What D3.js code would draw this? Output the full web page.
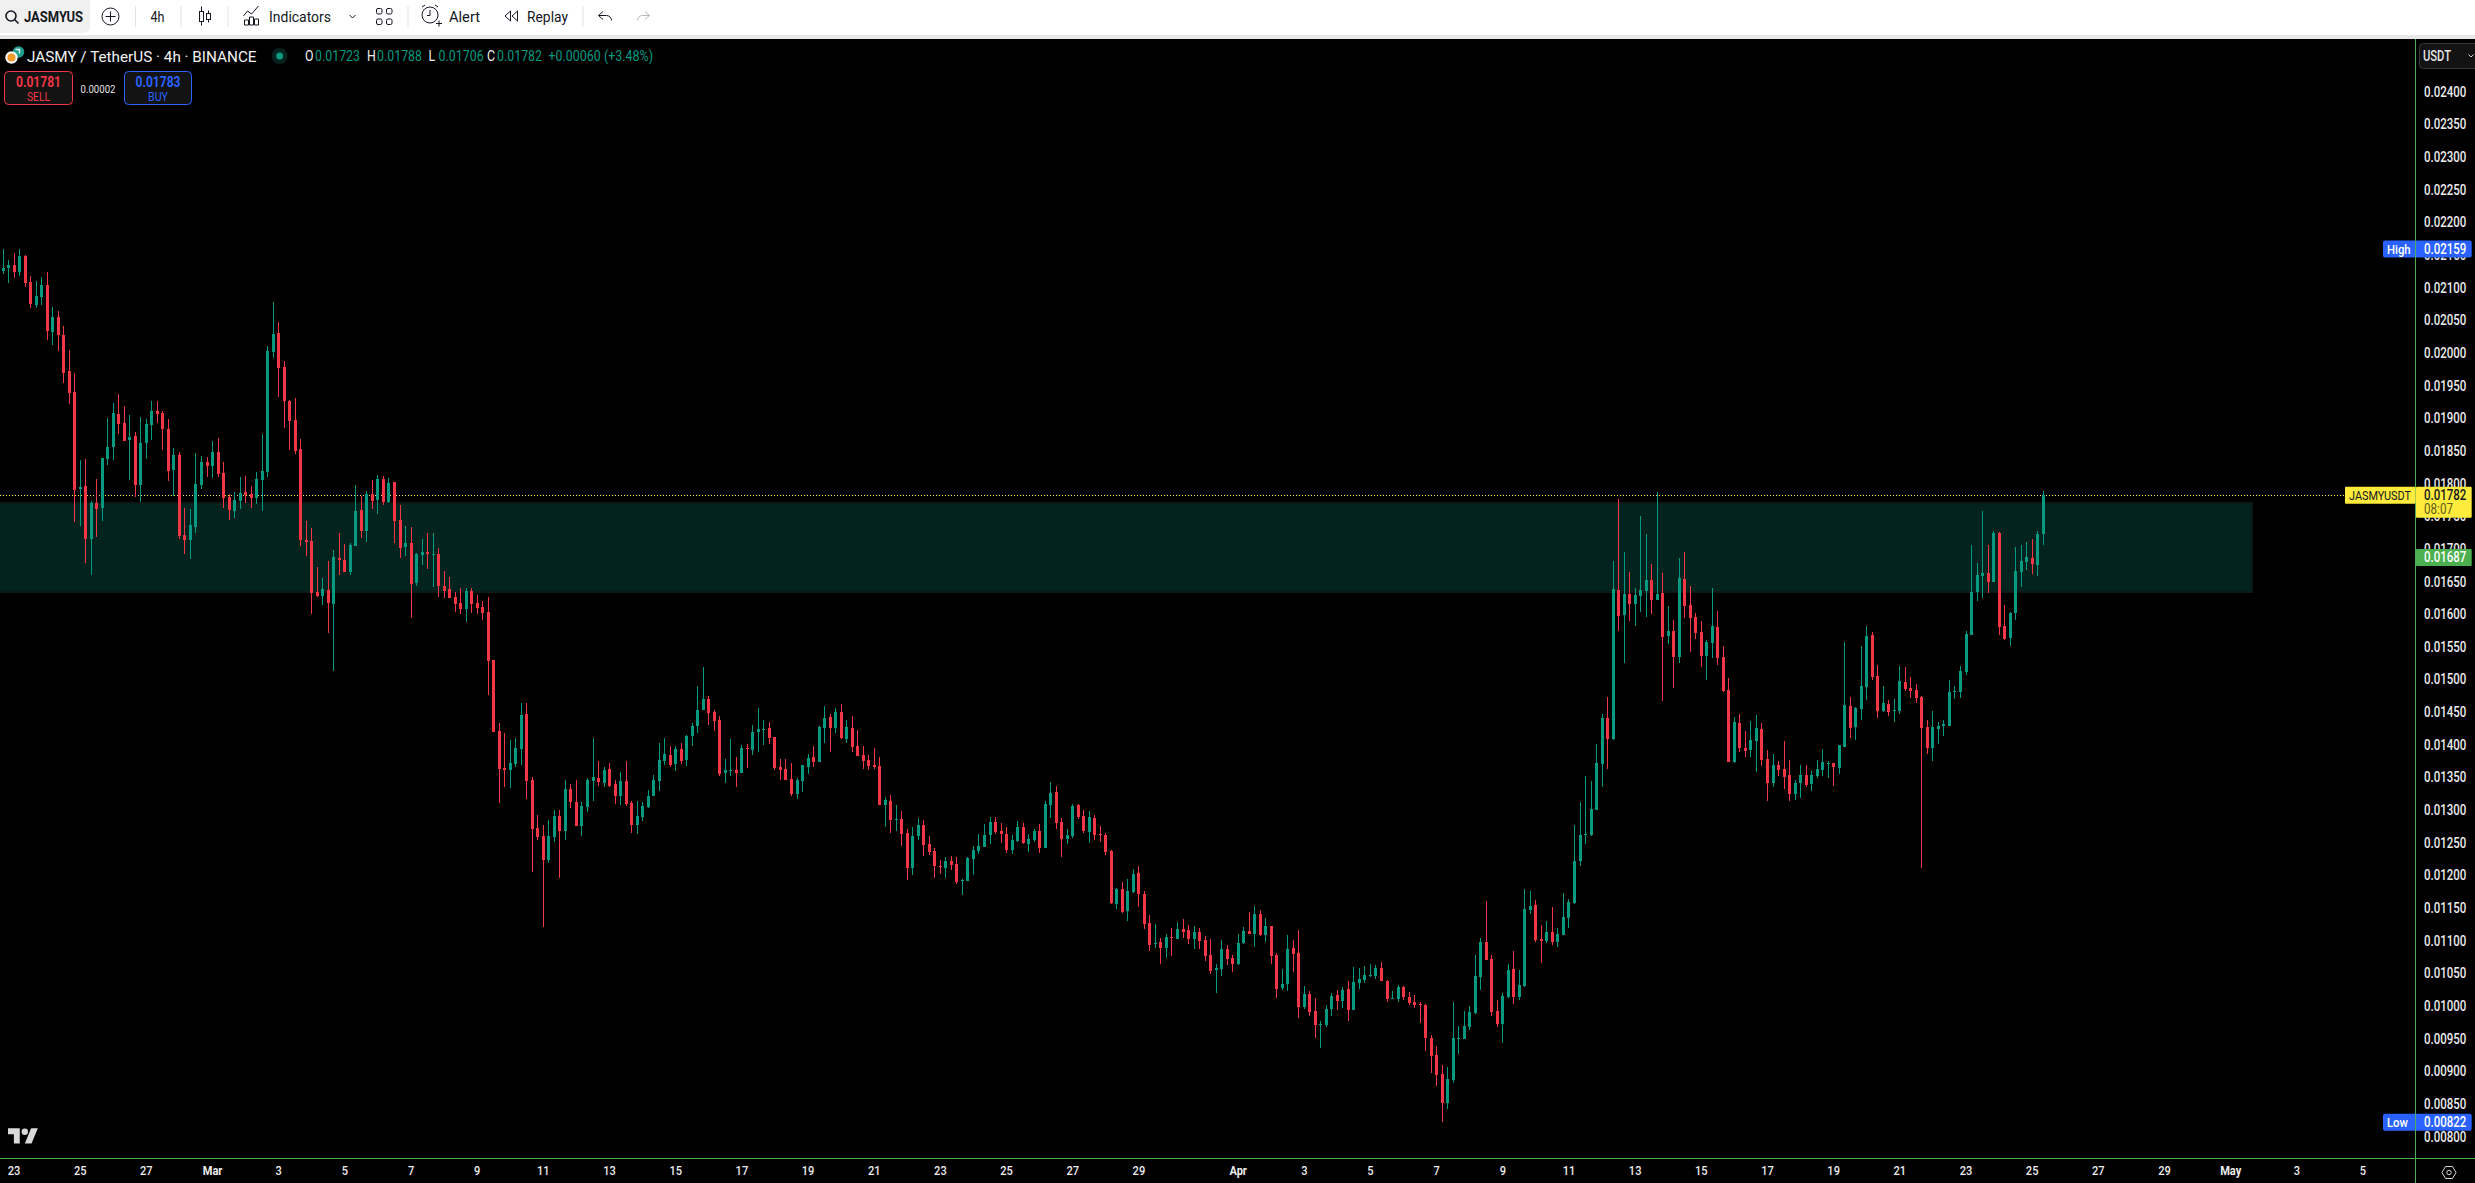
<!DOCTYPE html>
<html><head><meta charset="utf-8"><title>JASMY / TetherUS 4h</title>
<script src="https://cdn.jsdelivr.net/npm/d3@7"></script>
<style>html,body{margin:0;padding:0;background:#000;overflow:hidden}svg{display:block}text{font-family:Roboto,sans-serif}</style>
</head><body><svg id="chart" width="2475" height="1183"></svg>
<script>
// Prices are in units of 0.00001 USDT. One 4h candle per array position.
const PRICE_UNIT = 0.00001;
const highs = [2159,2142,2153,2159,2150,2118,2110,2116,2124,2070,
2064,2041,2004,1969,1836,1838,1773,1807,1839,1900,
1923,1937,1919,1905,1879,1902,1899,1926,1926,1911,
1899,1854,1848,1763,1761,1847,1842,1841,1865,1870,
1833,1784,1787,1810,1812,1796,1818,1876,2011,2078,
2047,1988,1928,1931,1868,1743,1732,1672,1655,1681,
1698,1724,1707,1709,1798,1781,1789,1805,1813,1812,
1808,1802,1767,1735,1733,1694,1715,1724,1724,1701,
1666,1657,1634,1640,1640,1640,1629,1620,1626,1530,
1433,1418,1407,1410,1464,1464,1351,1293,1277,1285,
1300,1300,1346,1340,1346,1312,1349,1410,1375,1366,
1372,1346,1358,1375,1314,1314,1312,1331,1354,1403,
1410,1398,1398,1403,1415,1433,1490,1519,1475,1453,
1444,1378,1409,1381,1400,1401,1430,1456,1438,1435,
1412,1378,1378,1372,1349,1369,1386,1398,1429,1459,
1447,1456,1462,1438,1444,1423,1398,1384,1395,1381,
1320,1323,1308,1299,1271,1274,1288,1285,1260,1242,
1224,1228,1230,1228,1195,1228,1245,1263,1279,1289,
1289,1280,1274,1262,1283,1280,1263,1271,1279,1314,
1343,1337,1288,1271,1309,1309,1300,1299,1293,1276,
1265,1239,1181,1190,1195,1210,1214,1176,1139,1126,
1104,1110,1120,1129,1133,1124,1123,1120,1107,1103,
1064,1101,1094,1078,1110,1121,1144,1153,1147,1135,
1123,1081,1057,1109,1101,1116,1031,1023,1012,977,
1002,1020,1025,1029,1038,1060,1058,1061,1064,1063,
1067,1040,1023,1032,1031,1021,1017,1006,1003,956,
939,910,907,1006,969,992,1000,1078,1104,1161,
1078,1009,1020,1064,1084,1055,1179,1176,1162,1124,
1130,1152,1120,1173,1164,1277,1312,1352,1345,1401,
1447,1473,1681,1776,1695,1665,1640,1750,1723,1677,
1787,1663,1613,1591,1686,1695,1643,1602,1590,1560,
1640,1605,1551,1502,1443,1447,1421,1436,1446,1433,
1392,1386,1375,1406,1377,1346,1369,1369,1360,1377,
1394,1375,1372,1400,1557,1473,1458,1551,1582,1573,
1522,1490,1469,1470,1521,1519,1504,1493,1475,1438,
1452,1435,1438,1499,1490,1521,1574,1706,1678,1758,
1706,1727,1726,1614,1603,1703,1706,1711,1715,1727,1789];
const lows = [2121,2107,2115,2118,2101,2069,2069,2073,2020,2012,
2003,1954,1922,1741,1735,1678,1660,1718,1743,1828,
1836,1876,1865,1805,1779,1772,1838,1867,1893,1851,
1804,1781,1715,1692,1684,1724,1792,1810,1808,1810,
1763,1744,1747,1761,1770,1763,1769,1758,1810,1992,
1932,1885,1851,1845,1704,1689,1600,1626,1614,1571,
1513,1660,1665,1660,1704,1717,1710,1761,1753,1767,
1770,1709,1686,1689,1594,1643,1675,1669,1642,1626,
1625,1625,1603,1600,1588,1602,1600,1591,1476,1420,
1311,1335,1334,1366,1369,1317,1205,1254,1121,1219,
1251,1196,1254,1303,1276,1260,1297,1314,1337,1335,
1335,1309,1308,1306,1265,1263,1283,1303,1322,1329,
1369,1366,1360,1371,1368,1398,1418,1453,1430,1421,
1352,1342,1352,1335,1357,1364,1384,1389,1400,1401,
1361,1346,1346,1322,1317,1328,1355,1366,1374,1403,
1389,1418,1409,1403,1389,1383,1363,1361,1363,1308,
1274,1265,1268,1245,1193,1201,1254,1230,1231,1196,
1202,1196,1208,1187,1170,1191,1201,1233,1243,1248,
1263,1250,1234,1233,1251,1248,1236,1251,1234,1242,
1288,1271,1228,1248,1257,1286,1265,1250,1254,1251,
1231,1156,1149,1142,1130,1173,1152,1118,1084,1089,
1064,1074,1077,1103,1104,1095,1087,1087,1069,1049,
1020,1046,1063,1052,1063,1095,1110,1090,1107,1098,
1064,1012,1025,1023,1052,982,995,985,951,936,
968,985,994,997,977,994,1026,1035,1044,1041,
1038,1006,1011,1006,1009,1002,997,974,931,897,
878,822,842,882,927,949,963,988,1025,1070,
985,968,943,1012,1003,1009,1029,1141,1098,1066,
1097,1094,1090,1109,1120,1156,1214,1248,1260,1300,
1335,1363,1407,1574,1525,1590,1582,1603,1596,1600,
1622,1467,1554,1487,1525,1594,1542,1562,1519,1499,
1533,1522,1481,1374,1372,1389,1381,1381,1358,1368,
1314,1335,1352,1332,1314,1316,1319,1335,1329,1349,
1352,1349,1337,1355,1397,1410,1407,1438,1469,1499,
1441,1450,1444,1435,1447,1482,1472,1464,1211,1386,
1375,1401,1414,1429,1470,1472,1507,1568,1620,1625,
1632,1649,1568,1560,1551,1591,1642,1668,1662,1658,1706];
const opens = [2125,2130,2135,2124,2148,2109,2073,2086,2104,2032,
2055,2027,1972,1940,1792,1796,1715,1770,1763,1838,
1856,1906,1893,1867,1873,1798,1862,1890,1911,1908,
1883,1821,1844,1721,1714,1733,1798,1833,1827,1848,
1816,1779,1758,1773,1787,1784,1778,1805,1818,2001,
2031,1978,1926,1897,1853,1714,1712,1634,1628,1637,
1615,1686,1683,1665,1704,1759,1727,1784,1775,1807,
1772,1802,1744,1703,1709,1648,1691,1695,1691,1692,
1643,1638,1626,1617,1608,1635,1617,1611,1603,1530,
1421,1364,1361,1371,1394,1447,1346,1273,1260,1224,
1259,1291,1268,1332,1312,1276,1305,1345,1349,1342,
1363,1340,1322,1345,1311,1277,1289,1305,1322,1345,
1375,1384,1371,1394,1377,1413,1429,1453,1470,1450,
1438,1357,1360,1361,1357,1395,1392,1420,1423,1426,
1412,1366,1363,1348,1325,1345,1366,1381,1374,1426,
1443,1426,1450,1409,1426,1398,1384,1377,1369,1368,
1308,1314,1285,1286,1265,1211,1260,1277,1248,1237,
1214,1211,1222,1217,1191,1191,1225,1237,1243,1262,
1282,1268,1263,1239,1253,1274,1248,1254,1268,1242,
1308,1328,1282,1256,1260,1308,1291,1266,1288,1263,
1262,1237,1156,1179,1146,1175,1204,1172,1127,1095,
1098,1089,1106,1103,1118,1116,1103,1113,1101,1078,
1055,1057,1087,1074,1064,1097,1115,1110,1141,1109,
1123,1078,1028,1034,1089,1081,999,1018,992,971,
971,995,1017,1008,1026,994,1035,1040,1046,1046,
1058,1038,1011,1011,1029,1014,1006,1003,1002,951,
925,896,852,887,949,949,968,989,1044,1098,
1072,992,973,1014,1057,1014,1031,1147,1155,1103,
1100,1113,1098,1109,1135,1158,1222,1262,1262,1300,
1371,1441,1409,1637,1599,1631,1616,1628,1635,1652,
1622,1632,1567,1574,1534,1654,1614,1596,1573,1536,
1556,1580,1534,1484,1374,1433,1395,1392,1406,1424,
1378,1342,1369,1363,1354,1325,1342,1354,1340,1352,
1361,1371,1372,1364,1397,1459,1427,1455,1489,1568,
1505,1452,1463,1452,1452,1496,1487,1484,1473,1427,
1395,1424,1429,1429,1481,1481,1512,1568,1634,1659,
1663,1649,1724,1582,1564,1602,1665,1680,1686,1675,1723];
const closes = [2130,2135,2124,2148,2107,2075,2087,2104,2034,2055,
2027,1969,1939,1790,1795,1715,1770,1761,1839,1856,
1908,1891,1865,1871,1798,1862,1891,1911,1906,1883,
1819,1844,1720,1714,1736,1799,1833,1827,1848,1815,
1778,1759,1775,1786,1782,1778,1807,1819,2003,2029,
1977,1926,1896,1850,1714,1711,1632,1628,1638,1617,
1688,1683,1665,1706,1758,1727,1784,1773,1807,1772,
1801,1743,1701,1709,1646,1692,1695,1692,1692,1643,
1635,1625,1616,1608,1635,1616,1609,1602,1529,1420,
1363,1361,1372,1395,1446,1345,1271,1259,1224,1260,
1291,1268,1332,1312,1276,1306,1346,1351,1343,1361,
1337,1322,1345,1309,1277,1291,1306,1322,1346,1377,
1386,1369,1394,1375,1413,1429,1453,1470,1449,1436,
1355,1361,1361,1357,1395,1394,1420,1424,1424,1410,
1364,1361,1346,1325,1346,1369,1380,1374,1427,1441,
1426,1450,1410,1427,1397,1383,1375,1368,1366,1308,
1315,1285,1286,1263,1211,1260,1277,1247,1236,1214,
1213,1222,1216,1190,1193,1227,1239,1245,1262,1282,
1266,1263,1239,1254,1274,1250,1256,1268,1242,1309,
1326,1280,1256,1262,1306,1290,1268,1290,1262,1262,
1236,1158,1179,1144,1176,1202,1172,1126,1094,1097,
1089,1106,1104,1118,1113,1103,1113,1100,1077,1054,
1058,1087,1072,1064,1097,1115,1110,1141,1109,1123,
1077,1026,1034,1087,1080,999,1018,991,971,973,
995,1015,1008,1025,994,1037,1041,1048,1048,1058,
1038,1011,1012,1029,1014,1005,1002,1002,951,924,
894,852,888,951,951,969,991,1046,1098,1070,
991,973,1015,1055,1014,1032,1149,1153,1101,1100,
1113,1098,1110,1136,1159,1222,1262,1263,1302,1372,
1441,1409,1639,1597,1631,1616,1629,1637,1652,1622,
1631,1565,1574,1534,1655,1613,1594,1571,1536,1557,
1582,1533,1482,1374,1435,1395,1391,1407,1426,1377,
1342,1369,1361,1351,1325,1342,1354,1338,1354,1363,
1374,1372,1366,1400,1461,1426,1456,1490,1567,1504,
1452,1464,1450,1453,1498,1485,1482,1472,1426,1395,
1427,1429,1432,1481,1482,1513,1570,1634,1660,1663,
1649,1724,1580,1562,1602,1666,1681,1688,1677,1723,1782];

const priceTicks = [0.024,0.0235,0.023,0.0225,0.022,0.0215,0.021,0.0205,0.02,0.0195,0.019,0.0185,0.018,0.0175,0.017,0.0165,0.016,0.0155,0.015,0.0145,0.014,0.0135,0.013,0.0125,0.012,0.0115,0.011,0.0105,0.01,0.0095,0.009,0.0085,0.008];
const febDays = [23,25,27];
const marDays = [1,3,5,7,9,11,13,15,17,19,21,23,25,27,29];
const aprDays = [1,3,5,7,9,11,13,15,17,19,21,23,25,27,29];
const mayDays = [1,3,5];
const monthNames = ['Jan','Feb','Mar','Apr','May'];
const firstBar = Date.UTC(2025,1,22,16);
const lastBar  = Date.UTC(2025,3,25,8);
const BAR_MS = 4*3600*1000;
const zoneTop = 0.01771, zoneBottom = 0.01634;
const zoneEnd = Date.UTC(2025,4,1,16);
const lastPrice = 0.01782, highPrice = 0.02159, lowPrice = 0.00822, markPrice = 0.01687;
const sellPrice = '0.01781', buyPrice = '0.01783', spread = '0.00002';
const GREEN = '#089981', RED = '#f23645';

const svg = d3.select('#chart');
const AX_X = 2415.5, AX_Y = 1158.5, TOP = 39;

const x = d3.scaleUtc().domain([firstBar,lastBar]).range([2.5,2042.7]);
const y = d3.scaleLinear().domain([0.008,0.024]).range([1136.7,91.7]);

function squeeze(sel,f){ sel.each(function(){ const n=this; const l=n.getComputedTextLength(); d3.select(n).attr('textLength',l*f).attr('lengthAdjust','spacingAndGlyphs'); }); return sel; }
function txt(p,xx,yy,s,o={}){ const t=p.append('text').attr('x',xx).attr('y',yy).attr('dy','0.36em').text(s)
  .attr('font-size',o.size||14).attr('fill',o.fill||'#131722').attr('font-weight',o.weight||400).attr('text-anchor',o.anchor||'start');
  if(o.w) t.attr('textLength',o.w).attr('lengthAdjust','spacingAndGlyphs'); else squeeze(t,o.sq||0.84); return t; }

svg.append('rect').attr('width',2475).attr('height',1183).attr('fill','#000');

const defs = svg.append('defs');
defs.append('clipPath').attr('id','plot').append('rect').attr('x',0).attr('y',TOP).attr('width',AX_X).attr('height',AX_Y-TOP);
const plot = svg.append('g').attr('clip-path','url(#plot)');

// zone
plot.append('rect').attr('x',-5).attr('y',y(zoneTop)).attr('width',x(zoneEnd)+5).attr('height',y(zoneBottom)-y(zoneTop))
  .attr('fill','#03231e').attr('stroke','#0c1a17').attr('stroke-width',2).attr('shape-rendering','crispEdges');

// last price line
plot.append('line').attr('x1',0).attr('x2',AX_X).attr('y1',Math.round(y(lastPrice))+0.5).attr('y2',Math.round(y(lastPrice))+0.5)
  .attr('stroke','#ffeb3b').attr('stroke-width',1).attr('stroke-dasharray','1 2');

// candles
const bars = d3.range(highs.length).map(i=>({t:firstBar+i*BAR_MS,o:opens[i]*PRICE_UNIT,h:highs[i]*PRICE_UNIT,l:lows[i]*PRICE_UNIT,c:closes[i]*PRICE_UNIT}));
const cg = plot.append('g').attr('shape-rendering','crispEdges');
const cs = cg.selectAll('g').data(bars).join('g').attr('fill',d=>d.c>=d.o?GREEN:RED);
cs.append('rect').attr('x',d=>Math.round(x(d.t))).attr('width',1).attr('y',d=>Math.round(y(d.h))).attr('height',d=>Math.max(1,Math.round(y(d.l))-Math.round(y(d.h))));
cs.append('rect').attr('x',d=>Math.round(x(d.t))-1).attr('width',3).attr('y',d=>Math.round(y(Math.max(d.o,d.c)))).attr('height',d=>Math.max(1,Math.round(y(Math.min(d.o,d.c)))-Math.round(y(Math.max(d.o,d.c)))));

// axes lines
svg.append('line').attr('x1',AX_X).attr('x2',AX_X).attr('y1',TOP).attr('y2',1183).attr('stroke','#4caf50');
svg.append('line').attr('x1',0).attr('x2',2475).attr('y1',AX_Y).attr('y2',AX_Y).attr('stroke','#4caf50');

// price axis
const yAxis = svg.append('g').attr('transform',`translate(${AX_X},0)`)
  .call(d3.axisRight(y).tickValues(priceTicks).tickFormat(d3.format('.5f')).tickSize(0).tickPadding(8.5));
yAxis.select('.domain').remove();
yAxis.selectAll('text').attr('font-size',14).attr('font-weight',500).attr('fill','#ececec').attr('font-family','Roboto,sans-serif').call(squeeze,0.82);

// time axis
const dateTicks = [].concat(febDays.map(d=>Date.UTC(2025,1,d)),marDays.map(d=>Date.UTC(2025,2,d)),aprDays.map(d=>Date.UTC(2025,3,d)),mayDays.map(d=>Date.UTC(2025,4,d)));
const fmtDate = v=>{const d=new Date(v);return d.getUTCDate()===1?monthNames[d.getUTCMonth()]:String(d.getUTCDate());};
const xAxis = svg.append('g').attr('transform',`translate(0,${AX_Y})`)
  .call(d3.axisBottom(x).tickValues(dateTicks).tickFormat(fmtDate).tickSize(0).tickPadding(7));
xAxis.select('.domain').remove();
xAxis.selectAll('text').attr('font-size',13.5).attr('fill','#ececec').attr('font-family','Roboto,sans-serif')
  .attr('font-weight',d=>new Date(d).getUTCDate()===1?700:500).call(squeeze,0.82);

// price labels
function priceTag(price,label,fill){
  const yy=y(price), g=svg.append('g');
  g.append('rect').attr('x',2383).attr('y',yy-8.5).attr('width',88.7).attr('height',17).attr('rx',2).attr('fill',fill);
  g.append('line').attr('x1',AX_X).attr('x2',AX_X).attr('y1',yy-8.5).attr('y2',yy+8.5).attr('stroke','#4caf50');
  txt(g,2387,yy,label,{fill:'#fff',size:13.5,sq:0.84,weight:500});
  txt(g,2424,yy,d3.format('.5f')(price),{fill:'#fff',size:14,sq:0.82,weight:500});
}
priceTag(highPrice,'High','#2962ff');
priceTag(lowPrice,'Low','#2962ff');
const mk=svg.append('g'), my=y(markPrice);
mk.append('rect').attr('x',2416).attr('y',my-8.5).attr('width',55.7).attr('height',17).attr('rx',1).attr('fill','#4caf50');
txt(mk,2424,my,d3.format('.5f')(markPrice),{fill:'#fff',size:14,sq:0.82,weight:500});
const lp=svg.append('g'), ly=y(lastPrice);
lp.append('rect').attr('x',2345).attr('y',ly-8.5).attr('width',70.5).attr('height',17).attr('rx',1).attr('fill','#ffeb3b');
lp.append('rect').attr('x',2416).attr('y',ly-8.5).attr('width',55.7).attr('height',31).attr('rx',1).attr('fill','#ffeb3b');
txt(lp,2349,ly,'JASMYUSDT',{fill:'#131722',size:13,w:62});
txt(lp,2424,ly,d3.format('.5f')(lastPrice),{fill:'#131722',size:14,sq:0.82,weight:500});
txt(lp,2424,ly+14,'08:07',{fill:'#5d5a1c',size:14,sq:0.83});

// currency button
svg.append('rect').attr('x',2419.5).attr('y',43.5).attr('width',70).attr('height',25).attr('rx',4).attr('fill','#131313').attr('stroke','#363636');
txt(svg,2423,56,'USDT',{fill:'#e6e6e6',size:14,w:28,weight:500});
svg.append('path').attr('d','M2468.5 54.5l2.5 2.5l2.5-2.5').attr('fill','none').attr('stroke','#cfcfcf').attr('stroke-width',1);
// settings hexagon
svg.append('path').attr('d','M2442 1172.5l3.5-6h7l3.5 6l-3.5 6h-7z').attr('fill','none').attr('stroke','#d8d8d8').attr('stroke-width',1);
svg.append('circle').attr('cx',2449).attr('cy',1172.5).attr('r',2.2).attr('fill','none').attr('stroke','#d8d8d8');

// TV logo
svg.append('path').attr('transform','translate(8,1125) scale(0.84)').attr('fill','#d9d9d9')
  .attr('d','M14 22H7V11H0V4h14v18zM28 22h-8l7.5-18h8L28 22z');
svg.append('circle').attr('cx',24.8).attr('cy',1131.7).attr('r',3.2).attr('fill','#d9d9d9');

// legend
svg.append('circle').attr('cx',18.5).attr('cy',52).attr('r',5.8).attr('fill','#1f9d8f');
svg.append('path').attr('d','M15.5 49.5h4v4').attr('fill','none').attr('stroke','#d9f2ee').attr('stroke-width',1.4);
svg.append('circle').attr('cx',11.5).attr('cy',57.5).attr('r',6.2).attr('fill','#f7f7f7');
svg.append('circle').attr('cx',11.5).attr('cy',57.5).attr('r',4).attr('fill','#f09a2a');
txt(svg,27,56,'JASMY / TetherUS · 4h · BINANCE',{fill:'#f2f2f2',size:15.5,w:229.5});
svg.append('circle').attr('cx',279.6).attr('cy',56).attr('r',8).attr('fill','#06221e');
svg.append('circle').attr('cx',279.6).attr('cy',56).attr('r',3.5).attr('fill',GREEN);
const ohlc=[['O',305,'0.01723'],['H',367,'0.01788'],['L',428.6,'0.01706'],['C',487,'0.01782']];
ohlc.forEach(([k,xx,v])=>{ txt(svg,xx,56,k,{fill:'#eeeeee',size:14,sq:0.88}); txt(svg,xx+10,56,v,{fill:GREEN,size:14,w:45}); });
txt(svg,548.5,56,'+0.00060 (+3.48%)',{fill:GREEN,size:14,w:104.5});

// sell/buy
svg.append('rect').attr('x',4.5).attr('y',71.5).attr('width',68).attr('height',33).attr('rx',4).attr('fill','#131313').attr('stroke',RED);
txt(svg,38.5,81.5,sellPrice,{fill:RED,size:14,anchor:'middle',weight:700,w:45});
txt(svg,38.5,96,'SELL',{fill:RED,size:12.5,anchor:'middle',w:23});
txt(svg,98,89,spread,{fill:'#e0e0e0',size:11.5,anchor:'middle',w:35});
svg.append('rect').attr('x',124.5).attr('y',71.5).attr('width',67).attr('height',33).attr('rx',4).attr('fill','#131313').attr('stroke','#2962ff');
txt(svg,158,81.5,buyPrice,{fill:'#2962ff',size:14,anchor:'middle',weight:700,w:45});
txt(svg,158,96,'BUY',{fill:'#2962ff',size:12.5,anchor:'middle',w:20});

// toolbar
const tb=svg.append('g');
tb.append('rect').attr('width',2475).attr('height',35).attr('fill','#fff');
tb.append('rect').attr('y',35).attr('width',2475).attr('height',4).attr('fill','#e8e8e8');
tb.append('rect').attr('x',-6).attr('y',-6).attr('width',96).attr('height',39).attr('rx',6).attr('fill','#f0f0f0');
const ic={fill:'none',stroke:'#131722','stroke-width':1};
function path(d,o={}){ const p=tb.append('path').attr('d',d); Object.entries({...ic,...o}).forEach(([k,v])=>p.attr(k,v)); return p; }
tb.append('circle').attr('cx',11).attr('cy',16).attr('r',5).attr('fill','none').attr('stroke','#131722').attr('stroke-width',1.6);
path('M14.5 19.5l4 4',{'stroke-width':1.6});
txt(tb,24,16.5,'JASMYUS',{weight:700,size:15,w:59});
tb.append('circle').attr('cx',110.5).attr('cy',16.5).attr('r',8.5).attr('fill','none').attr('stroke','#131722');
path('M110.5 11.5v10M105.5 16.5h10');
[135,180.5,227.5,407.5,582.5].forEach(s=>tb.append('rect').attr('x',s).attr('y',6).attr('width',1).attr('height',21).attr('fill','#e4e4e4'));
txt(tb,157.5,16.5,'4h',{anchor:'middle',size:14.5,w:14});
path('M201.5 6.5v19M208.5 10.5v12'); tb.append('rect').attr('x',199.5).attr('y',11.5).attr('width',4).attr('height',10).attr('fill','#fff').attr('stroke','#131722');
tb.append('rect').attr('x',206.5).attr('y',13.5).attr('width',4).attr('height',6).attr('fill','#fff').attr('stroke','#131722');
path('M243.5 16l4-5l4 3l7-8M244.5 25v-5h4v5zM249.5 25v-8h4v8zM254.5 25v-6h4v6z');
txt(tb,269,16.5,'Indicators',{size:14.5,w:62});
path('M349.5 15l3 3l3-3');
[[376.5,8.5],[386.5,8.5],[376.5,19],[386.5,19]].forEach(([a,b])=>tb.append('rect').attr('x',a).attr('y',b).attr('width',5.5).attr('height',5.5).attr('rx',1.5).attr('fill','none').attr('stroke','#131722'));
tb.append('circle').attr('cx',430).attr('cy',15).attr('r',8).attr('fill','none').attr('stroke','#131722');
path('M430 10v5.5h-3M422 7l3-2M438 7l-3-2M436 23.5h6M439 20.5v6');
txt(tb,449,16.5,'Alert',{size:14.5,w:31});
path('M510.5 11l-5.5 5l5.5 5zM517.5 11l-5.5 5l5.5 5z');
txt(tb,527,16.5,'Replay',{size:14.5,w:41});
path('M603 11.5l-4.5 4l4.5 4M598.5 15.5h8a5 5 0 0 1 5 5');
path('M645 11.5l4.5 4l-4.5 4M649.5 15.5h-7a5 5 0 0 0-5 5',{stroke:'#b8b8b8'});
</script></body></html>
